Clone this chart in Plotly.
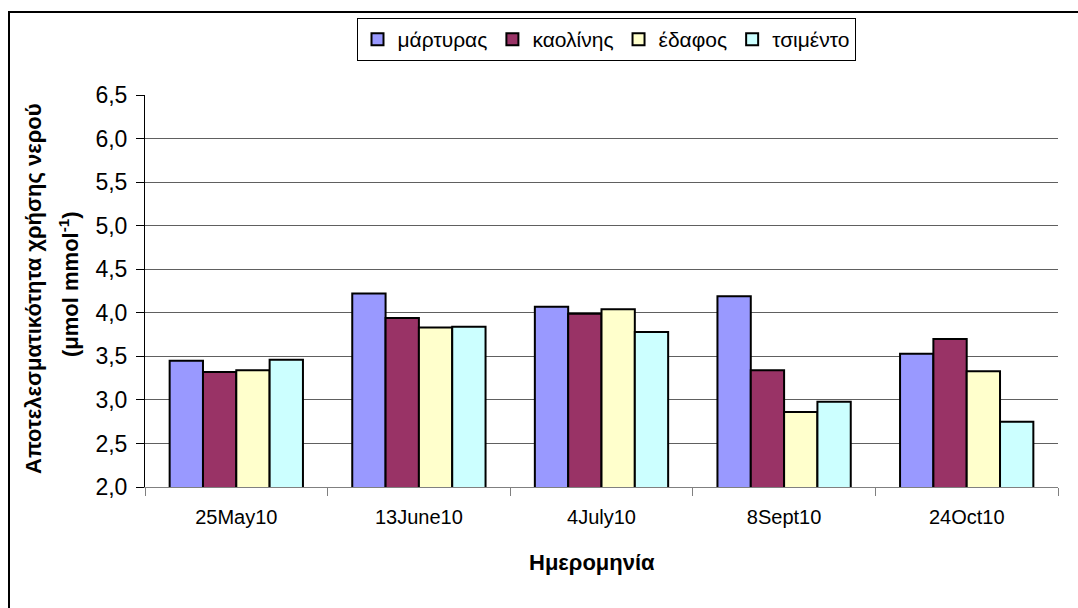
import plotly.graph_objects as go

dates = ["25May10", "13June10", "4July10", "8Sept10", "24Oct10"]
martyras = [3.45, 4.22, 4.07, 4.19, 3.53]
kaolinis = [3.32, 3.94, 3.99, 3.34, 3.70]
edafos = [3.34, 3.83, 4.04, 2.86, 3.33]
tsimento = [3.46, 3.84, 3.78, 2.98, 2.75]

series = [
    ("μάρτυρας", martyras, "#9999FF"),
    ("καολίνης", kaolinis, "#993366"),
    ("έδαφος", edafos, "#FFFFCC"),
    ("τσιμέντο", tsimento, "#CCFFFF"),
]

W, H = 1078, 608
L, R, T, B = 145, 20, 95, 121
pw, ph = W - L - R, H - T - B

def px_x(x):
    return (x - L) / pw

def px_y(y):
    return (H - B - y) / ph

fig = go.Figure()
for name, vals, color in series:
    fig.add_trace(go.Bar(
        name=name, x=dates, y=vals, base=0,
        marker=dict(color=color, line=dict(color="black", width=2)),
    ))

font = "Liberation Sans, Arial, sans-serif"

fig.update_layout(
    width=W, height=H,
    margin=dict(l=L, r=R, t=T, b=B),
    paper_bgcolor="white", plot_bgcolor="white",
    separators=",.",
    barmode="group", bargap=0.27, bargroupgap=0,
    font=dict(family=font, size=16, color="black"),
    showlegend=True,
    legend=dict(
        orientation="h", x=px_x(606), y=px_y(18),
        xanchor="center", yanchor="top",
        bordercolor="black", borderwidth=1,
        font=dict(size=21), itemwidth=30,
        tracegroupgap=0,
    ),
    xaxis=dict(
        showline=True, linecolor="#808080", linewidth=1,
        ticks="outside", tickson="boundaries", ticklen=8, tickcolor="#808080",
        tickfont=dict(size=20),
        ticklabelstandoff=12,
        showgrid=False,
    ),
    yaxis=dict(
        range=[2, 6.5], dtick=0.5, tickformat=".1f",
        showline=True, linecolor="black", linewidth=1,
        ticks="outside", ticklen=8, tickcolor="black",
        tickfont=dict(size=23),
        ticklabelstandoff=4,
        showgrid=True, gridcolor="#606060", gridwidth=1,
        zeroline=False,
    ),
    annotations=[
        dict(
            text="<b>Αποτελεσματικότητα χρήσης νερού</b>",
            xref="paper", yref="paper", x=px_x(33), y=px_y(289),
            xanchor="center", yanchor="middle", textangle=-90,
            showarrow=False, font=dict(size=22),
        ),
        dict(
            text="<b>(μmol mmol<sup>-1</sup>)</b>",
            xref="paper", yref="paper", x=px_x(69), y=px_y(284),
            xanchor="center", yanchor="middle", textangle=-90,
            showarrow=False, font=dict(size=22),
        ),
        dict(
            text="<b>Ημερομηνία</b>",
            xref="paper", yref="paper", x=px_x(592), y=px_y(562),
            xanchor="center", yanchor="middle",
            showarrow=False, font=dict(size=22),
        ),
    ],
    shapes=[dict(
        type="rect", xref="paper", yref="paper",
        x0=px_x(9), x1=px_x(1100), y0=px_y(12), y1=px_y(640),
        line=dict(color="black", width=2), fillcolor="rgba(0,0,0,0)",
        layer="below",
    )],
)

fig.write_html("out.html")
